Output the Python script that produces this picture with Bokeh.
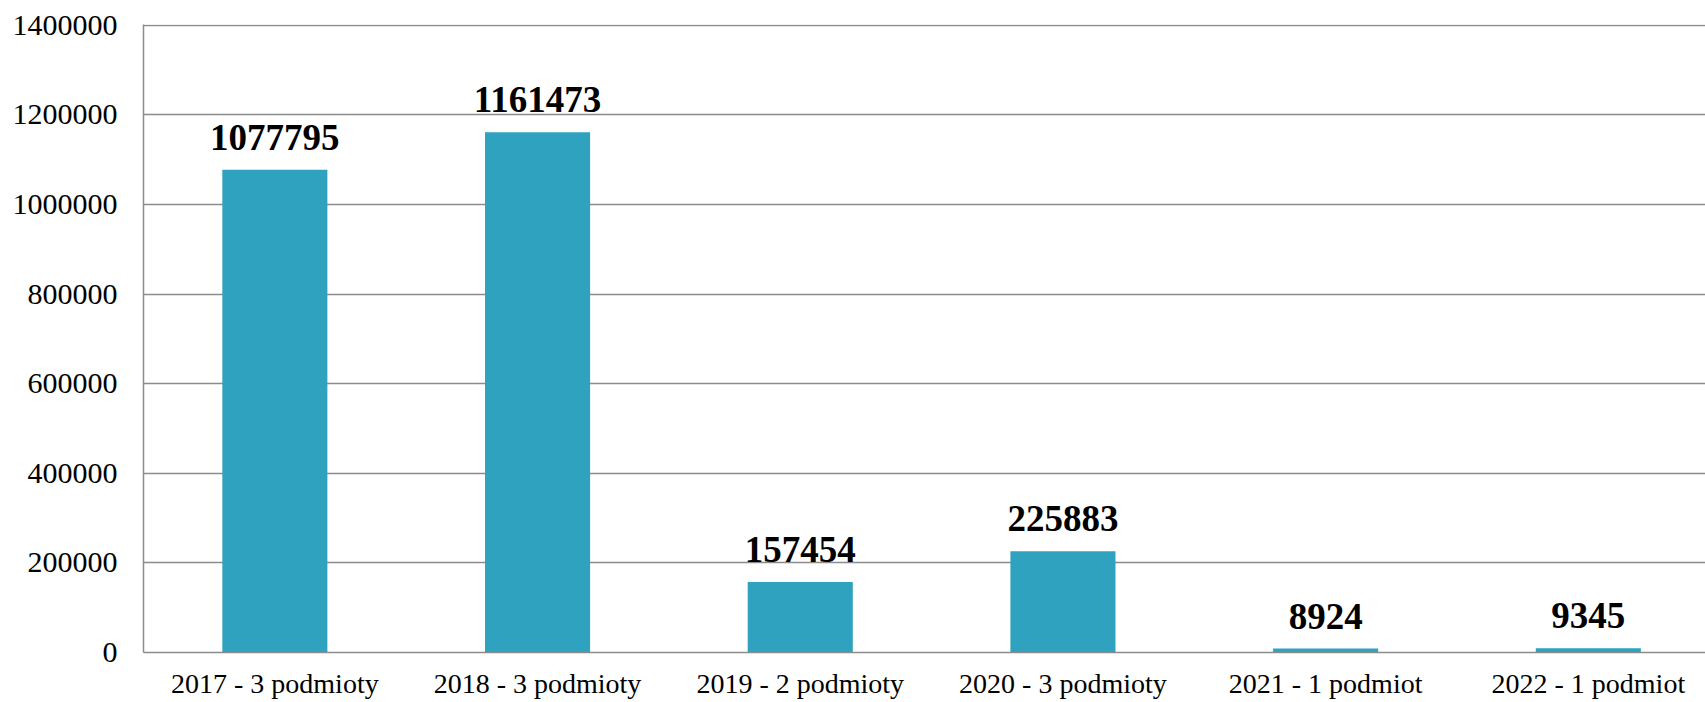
from bokeh.plotting import figure
from bokeh.models import ColumnDataSource, LabelSet, FixedTicker, NumeralTickFormatter, Range1d
from bokeh.embed import file_html
from bokeh.resources import INLINE

categories = ["2017 - 3 podmioty", "2018 - 3 podmioty", "2019 - 2 podmioty",
              "2020 - 3 podmioty", "2021 - 1 podmiot", "2022 - 1 podmiot"]
values = [1077795, 1161473, 157454, 225883, 8924, 9345]
y_ticks = [0, 200000, 400000, 600000, 800000, 1000000, 1200000, 1400000]

# category slots: the original chart's plot area runs slightly past the right edge
xpos = [i + 0.5 for i in range(len(categories))]

src = ColumnDataSource(dict(
    x=xpos,
    val=values,
    lbl=[str(v) for v in values],
))

GRID = "#8c8c8c"
BAR = "#2ea2bf"
FONT = "Liberation Serif"

p = figure(x_range=Range1d(0, 5.946), y_range=Range1d(0, 1402000),
           width=1705, height=702, output_backend="svg", toolbar_location=None,
           min_border_left=143, min_border_top=24, min_border_right=0, min_border_bottom=50)
p.outline_line_color = None
p.background_fill_color = "white"
p.border_fill_color = "white"

p.vbar(x="x", top="val", width=0.4, source=src, fill_color=BAR, line_color=None)

# y axis
p.yaxis.ticker = FixedTicker(ticks=y_ticks)
p.yaxis.formatter = NumeralTickFormatter(format="0")
p.yaxis.major_tick_out = 0
p.yaxis.major_tick_in = 0
p.yaxis.minor_tick_out = 0
p.yaxis.minor_tick_in = 0
p.yaxis.major_label_standoff = 26
p.yaxis.major_label_text_font = FONT
p.yaxis.major_label_text_font_size = "30px"
p.yaxis.major_label_text_color = "black"
p.yaxis.axis_line_color = GRID
p.yaxis.axis_line_width = 1.5

# x axis
p.xaxis.ticker = FixedTicker(ticks=xpos, minor_ticks=[])
p.xaxis.major_label_overrides = {x: c for x, c in zip(xpos, categories)}
p.xaxis.axis_line_color = GRID
p.xaxis.axis_line_width = 1.5
p.xaxis.major_tick_out = 0
p.xaxis.major_tick_in = 0
p.xaxis.minor_tick_out = 0
p.xaxis.minor_tick_in = 0
p.xaxis.major_label_text_font = FONT
p.xaxis.major_label_text_font_size = "28px"
p.xaxis.major_label_text_color = "black"
p.xaxis.major_label_standoff = 15

p.xgrid.grid_line_color = None
p.ygrid.grid_line_color = GRID
p.ygrid.grid_line_width = 1.5

p.add_layout(LabelSet(x="x", y="val", text="lbl", source=src,
                      text_font=FONT, text_font_style="bold", text_font_size="37px",
                      text_color="black", text_align="center", text_baseline="alphabetic",
                      y_offset=20))

open("out.html", "w").write(file_html(p, INLINE))
